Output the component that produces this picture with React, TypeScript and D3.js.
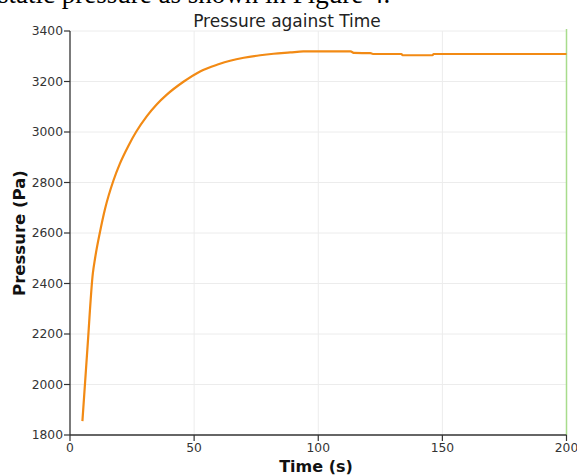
import React from "react";
import * as d3 from "d3";

const timeS = [5, 7, 9.2, 10.1, 12.1, 14.1, 17.5, 20.1, 23.5, 26.6, 30.9, 35, 39, 45.7, 52.4, 59.8, 64.5, 70, 76.6, 82, 88.7, 94, 113, 114.5, 121, 122, 133.5, 134, 146, 146.5, 200];
const pressurePa = [1855, 2140, 2440, 2500, 2605, 2695, 2808, 2875, 2945, 3000, 3062, 3110, 3148, 3199, 3240, 3268, 3282, 3294, 3304, 3310, 3315, 3319, 3319, 3313, 3312, 3309, 3309, 3304, 3304, 3309, 3309];
const xTicks = [0, 50, 100, 150, 200];
const yTicks = [1800, 2000, 2200, 2400, 2600, 2800, 3000, 3200, 3400];

const W = 577, H = 475;
const M = { left: 70, right: 566.5, top: 31, bottom: 435 };

export default function App() {
  const x = d3.scaleLinear().domain([0, 200]).range([M.left, M.right]);
  const y = d3.scaleLinear().domain([1800, 3400]).range([M.bottom, M.top]);
  const pts: [number, number][] = timeS.map((t, i) => [t, pressurePa[i]]);
  const line = d3.line<[number, number]>().x(d => x(d[0])).y(d => y(d[1])).curve(d3.curveMonotoneX);
  const font = "'DejaVu Sans', sans-serif";
  return (
    <svg width={W} height={H} style={{ position: "absolute", left: 0, top: 0, background: "#fff" }}>
      <text x={-2} y={3} fontFamily="'Liberation Serif', serif" fontSize={27} fill="#000">static pressure as shown in Figure 4.</text>
      {yTicks.slice(1).map(v => (
        <line key={"gy" + v} x1={M.left} x2={M.right} y1={y(v)} y2={y(v)} stroke="#ececec" strokeWidth={1} />
      ))}
      {xTicks.slice(1, -1).map(v => (
        <line key={"gx" + v} x1={x(v)} x2={x(v)} y1={M.top} y2={M.bottom} stroke="#ececec" strokeWidth={1} />
      ))}
      <line x1={x(200)} x2={x(200)} y1={M.top - 2} y2={M.bottom} stroke="#a8dc8c" strokeWidth={1.5} />
      <path d={line(pts) || ""} fill="none" stroke="#f28a14" strokeWidth={2.2} />
      <line x1={M.left} x2={M.left} y1={M.top} y2={M.bottom} stroke="#333" strokeWidth={1.3} />
      <line x1={M.left} x2={M.right} y1={M.bottom} y2={M.bottom} stroke="#333" strokeWidth={1.3} />
      {yTicks.map(v => (
        <g key={"ty" + v}>
          <line x1={M.left - 6} x2={M.left} y1={y(v)} y2={y(v)} stroke="#333" strokeWidth={1.2} />
          <text x={M.left - 7} y={y(v)} dy="0.36em" textAnchor="end" fontFamily={font} fontSize={12.3} fill="#333">{v}</text>
        </g>
      ))}
      {xTicks.map(v => (
        <g key={"tx" + v}>
          <line x1={x(v)} x2={x(v)} y1={M.bottom} y2={M.bottom + 6} stroke="#333" strokeWidth={1.2} />
          <text x={x(v)} y={452} textAnchor="middle" fontFamily={font} fontSize={12.3} fill="#333">{v}</text>
        </g>
      ))}
      <text x={287} y={27} textAnchor="middle" fontFamily={font} fontSize={17} fill="#222">Pressure against Time</text>
      <text x={316} y={472} textAnchor="middle" fontFamily={font} fontSize={16} fontWeight="bold" fill="#111">Time (s)</text>
      <text transform={`translate(25,${(M.top + M.bottom) / 2}) rotate(-90)`} textAnchor="middle" fontFamily={font} fontSize={16.5} fontWeight="bold" fill="#111">Pressure (Pa)</text>
    </svg>
  );
}
